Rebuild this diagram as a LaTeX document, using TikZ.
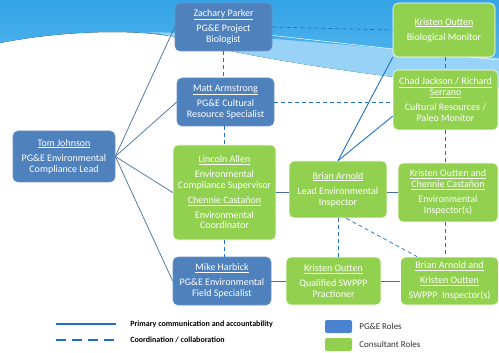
\documentclass[tikz,border=0pt]{standalone}
\usepackage{fontspec}
\setmainfont{Carlito}
\definecolor{pgeblue}{HTML}{4F81BD}
\definecolor{keyblue}{HTML}{4A84D0}
\definecolor{consgreen}{HTML}{92D050}
\definecolor{linkblue}{HTML}{1F6FC5}
\definecolor{skytop}{HTML}{34A4E6}
\definecolor{skylow}{HTML}{5ABAF0}
\definecolor{skyband}{HTML}{98D2F6}
\begin{document}
\begin{tikzpicture}[x=1pt,y=-1pt,
                    font=\fontsize{10}{11}\selectfont,
                    line width=0.7pt]
    \tikzstyle{role}=[rounded corners=5pt,align=center,text=white,inner sep=1pt,line width=0.6pt]
    \tikzstyle{pge}=[role,fill=pgeblue,draw=pgeblue!85!white]
    \tikzstyle{consultant}=[role,fill=consgreen,draw=white]
    \tikzstyle{primary}=[draw=pgeblue!85!black]
    \tikzstyle{direct}=[draw=linkblue,line width=0.9pt]
    \tikzstyle{coord}=[draw=linkblue,dash pattern=on 4pt off 3pt]
    \tikzstyle{keytext}=[anchor=west,inner sep=0pt,font=\fontsize{8}{9}\selectfont\bfseries]
    \tikzstyle{keybox}=[rounded corners=2pt,minimum width=27pt,minimum height=13pt,inner sep=0pt]

    \useasboundingbox (0,0) rectangle (499,353);

    % sky across the top
    \fill[top color=skytop,bottom color=skylow]
        (0,0) -- (499,0) -- (499,88) .. controls (400,80) and (240,58) .. (170,36)
        .. controls (120,28) and (50,33) .. (0,43) -- cycle;
    \fill[skyband]
        (140,32) .. controls (230,33) and (340,45) .. (499,58) -- (499,88)
        .. controls (400,80) and (240,58) .. (170,36) .. controls (160,33) and (150,32) .. (140,32) -- cycle;
    \draw[white,line width=0.5pt] (230,31) .. controls (300,38) and (360,46) .. (499,60);

    % PG&E roles
    \node[pge,minimum width=102pt,minimum height=51pt] (tom) at (64,156.5)
        {\underline{Tom Johnson}\\[4pt]PG\&E Environmental\\Compliance Lead};
    \node[pge,minimum width=97pt,minimum height=48pt] (zach) at (223.5,27)
        {\underline{Zachary Parker}\\[4pt]PG\&E Project\\Biologist};
    \node[pge,minimum width=97pt,minimum height=48pt] (matt) at (225.5,102)
        {\underline{Matt Armstrong}\\[4pt]PG\&E Cultural\\Resource Specialist};
    \node[pge,minimum width=98pt,minimum height=48pt] (mike) at (222,281)
        {\underline{Mike Harbick}\\[4pt]PG\&E Environmental\\Field Specialist};

    % consultant roles
    \node[consultant,minimum width=103pt,minimum height=95pt,font=\fontsize{10}{10.5}\selectfont] (lincoln) at (224.5,192.5)
        {\underline{Lincoln Allen}\\[4.5pt]Environmental\\Compliance Supervisor\\[4.5pt]
         \underline{Chennie Castañon}\\[4.5pt]Environmental\\Coordinator};
    \node[consultant,minimum width=98pt,minimum height=57pt] (brian) at (338,189.5)
        {\underline{Brian Arnold}\\[4pt]Lead Environmental\\Inspector};
    \node[consultant,minimum width=95pt,minimum height=48pt] (swppp) at (333.5,281)
        {\underline{Kristen Outten}\\[4pt]Qualified SWPPP\\Practioner};
    \node[consultant,minimum width=102pt,minimum height=54pt] (bio) at (444,30)
        {\underline{Kristen Outten}\\[4pt]Biological Monitor};
    \node[consultant,minimum width=105pt,minimum height=60pt] (chad) at (445.5,100)
        {\underline{Chad Jackson / Richard}\\\underline{Serrano}\\[4pt]Cultural Resources /\\Paleo Monitor};
    \node[consultant,minimum width=100pt,minimum height=59pt] (inspect) at (448,192.5)
        {\underline{Kristen Outten and}\\\underline{Chennie Castañon}\\[4pt]Environmental\\Inspector(s)};
    \node[consultant,minimum width=98pt,minimum height=48pt] (swinspect) at (449.5,281)
        {\underline{Brian Arnold and}\\[4pt]\underline{Kristen Outten}\\[4pt]SWPPP~ Inspector(s)};

    % primary communication
    \foreach \n in {zach,matt,lincoln,mike}
        \draw[primary] (tom.east) -- (\n.west);
    \draw[primary] (lincoln.east) -- (lincoln.east -| brian.west);
    \draw[primary] (inspect.west -| brian.east) -- (inspect.west);
    \draw[primary] (mike.east) -- (swppp.west);
    \draw[primary] (swppp.east) -- (swinspect.west);
    \draw[direct] (brian.north) -- (bio.south west);
    \draw[direct] (brian.north) -- (chad.197);

    % coordination
    \draw[coord] (zach.south) -- (zach.south |- matt.north);
    \draw[coord] (lincoln.north |- matt.south) -- (lincoln.north);
    \draw[coord] (lincoln.south) -- (lincoln.south |- mike.north);
    \draw[coord] (zach.east) -- (bio.west);
    \draw[coord] (matt.east) -- (matt.east -| chad.west);
    \draw[coord] (chad.north |- bio.south) -- (chad.north);
    \draw[coord] (chad.south) -- (chad.south |- inspect.north);
    \draw[coord] (chad.south |- inspect.south) -- (chad.south |- swinspect.north);
    \draw[coord] (brian.south) -- (brian.south |- swppp.north);
    \draw[coord] (brian.286) -- (swinspect.143);

    % key
    \coordinate (solidA) at (56,324);
    \coordinate (solidB) at (116,324);
    \coordinate (dashA) at (56,340);
    \coordinate (dashB) at (116,340);
    \draw[draw=linkblue,line width=1.3pt] (solidA) -- (solidB);
    \draw[draw=linkblue,line width=1.3pt,dash pattern=on 10pt off 6pt] (dashA) -- (dashB);
    \node[keytext] (solidkey) at (130,324) {Primary communication and accountability};
    \node[keytext] (dashkey) at (130,340) {Coordination / collaboration};
    \node[keybox,fill=keyblue] (pgekey) at (338.5,326.5) {};
    \node[keybox,fill=consgreen] (conskey) at (338.5,344.5) {};
    \node[keytext,font=\fontsize{9}{10}\selectfont,text=black!80] (pgelabel) at (359,326.5) {PG\&E Roles};
    \node[keytext,font=\fontsize{9}{10}\selectfont,text=black!80] (conslabel) at (359,344.5) {Consultant Roles};
\end{tikzpicture}
\end{document}
